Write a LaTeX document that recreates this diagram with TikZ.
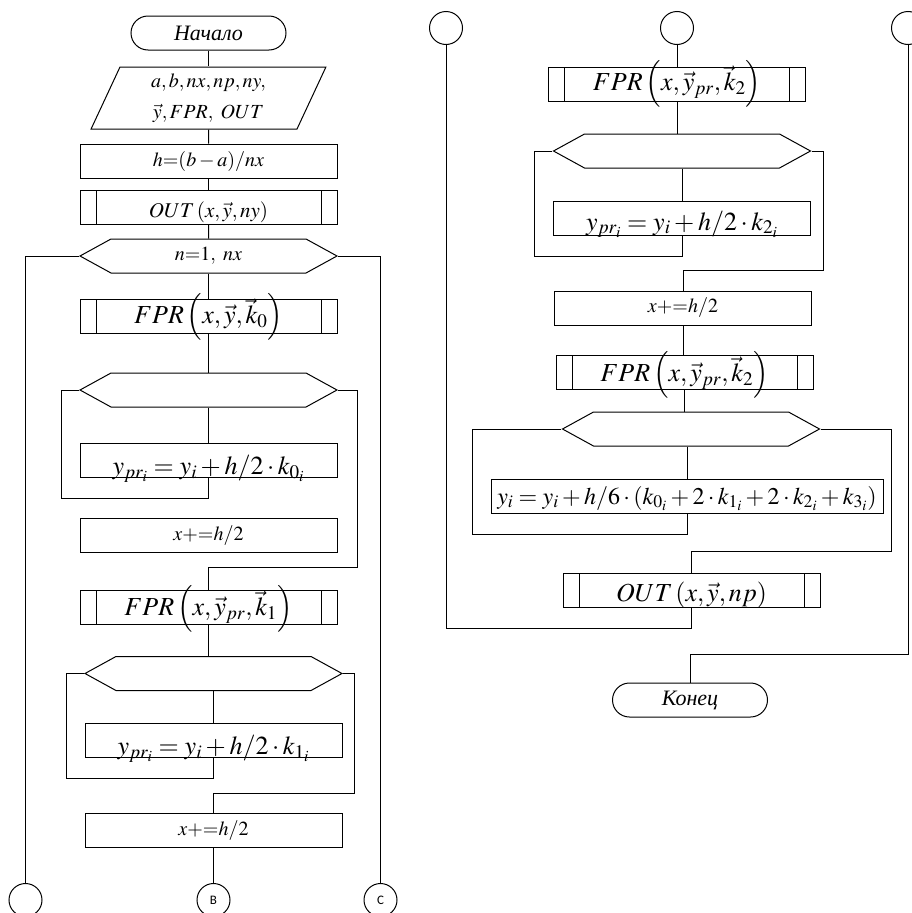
\documentclass[tikz,border=0pt]{standalone}
\usepackage{mathptmx}
\usepackage[no-math]{fontspec}
\setmainfont{Liberation Serif}
\newfontfamily\labelfont{Carlito}
\usetikzlibrary{shapes.geometric, shapes.symbols}

\tikzset{
  base/.style={draw, line width=1pt, inner sep=0pt, font=\fontsize{20}{24}\selectfont\itshape},
  term/.style={base, rectangle, rounded corners=17pt, minimum width=155pt, minimum height=34pt,
    font=\fontsize{22}{26}\selectfont\itshape},
  io/.style={base, trapezium, trapezium left angle=69, trapezium right angle=111,
    trapezium stretches=true, minimum width=235pt, minimum height=62pt, align=center,
    font=\fontsize{20}{31}\selectfont\itshape},
  proc/.style={base, rectangle, minimum width=257pt, minimum height=34pt},
  subproc/.style={proc, path picture={
    \draw[line width=1pt] ([xshift=16pt]path picture bounding box.north west) -- ([xshift=16pt]path picture bounding box.south west);
    \draw[line width=1pt] ([xshift=-16pt]path picture bounding box.north east) -- ([xshift=-16pt]path picture bounding box.south east);}},
  loopbox/.style={base, signal, signal to=west and east, signal pointer angle=57.5,
    minimum width=257pt, minimum height=34pt},
  conn/.style={draw, circle, line width=1pt, minimum size=33pt, inner sep=0pt,
    font=\labelfont\fontsize{13}{15}\selectfont},
  lowtext/.style={text height=#1, text depth=0pt},
  bigfont/.style={font=\fontsize{26}{30}\selectfont},
}

\begin{document}
\begin{tikzpicture}[x=1pt, y=-1pt, line width=1pt]

\useasboundingbox (0,0) rectangle (912,913);
\clip (0,0) rectangle (912,913);

% Left column
\node[term] (start) at (208.5,33) {Начало};
\node[io] (input) at (208.5,98) {$a,b,nx,np,ny,$\\$\vec{y},FPR,\ OUT$};
\node[proc] (step) at (208.5,161) {$h{=}(b-a)/nx$};
\node[subproc, font=\fontsize{21}{25}\selectfont, lowtext=20pt] (out0) at (208.5,207) {$OUT\left(x,\vec{y},ny\right)$};
\node[loopbox] (loopn) at (208.5,256) {$n{=}1,\ nx$};
\node[subproc, bigfont, lowtext=14pt] (fpr0) at (208.5,316.5) {$FPR\left(x,\vec{y},\vec{k}_0\right)$};
\node[loopbox] (loop0) at (208.5,390) {};
\node[proc, bigfont, lowtext=28pt] (ypr0) at (208.5,460.5) {$y_{pr_i}=y_i+h/2\cdot k_{0_i}$};
\node[proc] (xh0) at (208.5,535.5) {$x{+}{=}h/2$};
\node[subproc, bigfont, lowtext=16pt] (fpr1) at (208.5,607.5) {$FPR\left(x,\vec{y}_{pr},\vec{k}_1\right)$};
\node[loopbox] (loop1) at (213.5,673.5) {};
\node[proc, bigfont, lowtext=28pt] (ypr1) at (213.5,740.5) {$y_{pr_i}=y_i+h/2\cdot k_{1_i}$};
\node[proc] (xh1) at (213.5,830.5) {$x{+}{=}h/2$};
\node[conn] (cA) at (25.5,900) {};
\node[conn] (cB) at (213.5,900) {В};
\node[conn] (cC) at (380.5,900) {С};

\draw (start) -- (input);
\draw (input) -- (step);
\draw (step) -- (out0);
\draw (out0) -- (loopn);
\draw (loopn) -- (fpr0);
\draw (fpr0) -- (loop0);
\draw (loop0) -- (ypr0);
\draw (loopn.west) -| (cA.north);
\draw (loopn.east) -| (cC.north);
\draw (ypr0.south) -- (208.5,498) -| (61,390) -- (loop0.west);
\draw (loop0.east) -| (357,567) -| (fpr1.north);
\draw (fpr1.south) -- (fpr1.south |- loop1.north);
\draw (loop1) -- (ypr1);
\draw (ypr1.south) -- (213.5,778) -| (66,673.5) -- (loop1.west);
\draw (loop1.east) -| (354,793) -| (xh1.north);
\draw (xh1) -- (cB);

% Right column
\node[conn] (rA) at (446,28) {};
\node[conn] (rB) at (677,28) {};
\node[conn] (rC) at (908,28) {};
\node[subproc, bigfont, lowtext=12pt] (fpr2) at (677,84.5) {$FPR\left(x,\vec{y}_{pr},\vec{k}_2\right)$};
\node[loopbox] (loop2) at (682,151) {};
\node[proc, bigfont, lowtext=24pt] (ypr2) at (682,218) {$y_{pr_i}=y_i+h/2\cdot k_{2_i}$};
\node[proc] (xh2) at (683,308) {$x{+}{=}h/2$};
\node[subproc, bigfont, lowtext=18pt] (fpr3) at (684.5,372.5) {$FPR\left(x,\vec{y}_{pr},\vec{k}_2\right)$};
\node[loopbox] (loop3) at (691,429) {};
\node[proc, minimum width=392pt, font=\fontsize{24}{28}\selectfont, lowtext=16pt] (yfin) at (687,496)
  {$y_i=y_i+h/6\cdot(k_{0_i}+2\cdot k_{1_i}+2\cdot k_{2_i}+k_{3_i})$};
\node[subproc, bigfont, lowtext=22pt] (out1) at (691.5,590.5) {$OUT\left(x,\vec{y},np\right)$};
\node[term] (stop) at (690,700) {Конец};

\draw (rB) -- (fpr2);
\draw (fpr2.south) -- (fpr2.south |- loop2.north);
\draw (loop2) -- (ypr2);
\draw (ypr2.south) -- (682,256) -| (534,151) -- (loop2.west);
\draw (loop2.east) -| (823,270) -| (xh2.north);
\draw (xh2.south) -- (xh2.south |- fpr3.north);
\draw (fpr3.south) -- (fpr3.south |- loop3.north);
\draw (yfin.north |- loop3.south) -- (yfin.north);
\draw (yfin.south) -- (687,534) -| (472,429) -- (loop3.west);
\draw (loop3.east) -| (891,551) -| (out1.north);
\draw (rA) -- (446,628) -| (out1.south);
\draw (rC) -- (908,654) -| (stop.north);

\end{tikzpicture}
\end{document}
